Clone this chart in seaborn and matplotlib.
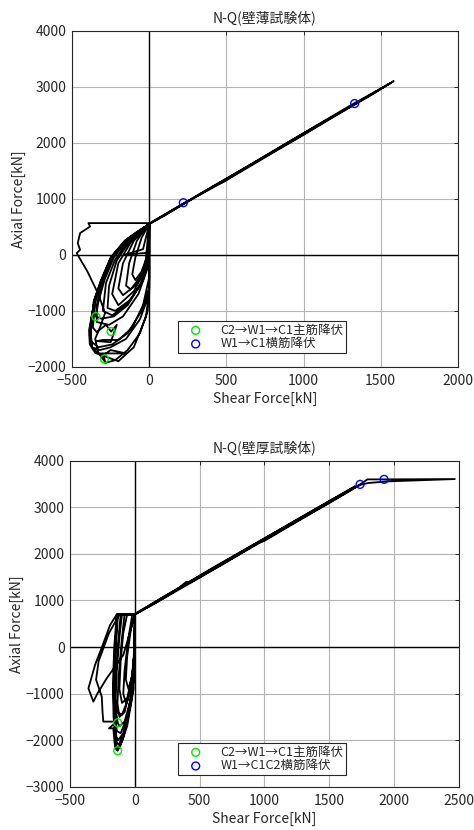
import numpy as np
import pandas as pd
import matplotlib
matplotlib.use("Agg")
import matplotlib.pyplot as plt
import seaborn as sns

# ---------------- data ----------------
titles = ["N-Q(壁薄試験体)", "N-Q(壁厚試験体)"]
xlabel = "Shear Force[kN]"
ylabel = "Axial Force[kN]"

# thin-wall specimen: shear force / axial force path
thin_q = [0, 100, 221, 350, 420, 470, 600, 800, 1000, 1200, 1331, 1450, 1584,
          1450, 1200, 1000, 800, 500, 300, 100, 0,
          150, 400, 700, 1000, 1300, 1560, 1300, 900, 600, 300, 0,
          -50, -90, -110, -90, -50, -10, 0,
          -20, -80, -130, -150, -120, -60, -10, 0,
          -30, -100, -170, -200, -170, -90, -20, 0, 0,
          -40, -120, -200, -240, -200, -100, -30, 0,
          -50, -130, -210, -260, -270, -220, -120, -40, -5, 0,
          -55, -140, -220, -280, -300, -240, -150, -60, -5, 0,
          -60, -150, -230, -290, -330, -346, -310, -230, -140, -50, -5, 0,
          -65, -150, -235, -300, -340, -340, -260, -170, -70, -5, 0,
          -70, -150, -240, -305, -350, -365, -340, -280, -247, -210, -250, -340, -300,
          -200, -110, -40, 0, 0,
          -70, -145, -242, -307, -351, -375, -385, -370, -320, -250, -150, -60, 0, 0,
          -75, -150, -245, -310, -355, -380, -375, -330, -240, -140, -50, 0, 0,
          -80, -150, -245, -310, -355, -390, -385, -350, -300, -290, -285, -220, -140, -60, -10, 0, 0,
          -90, -160, -250, -315, -360, -380, -370, -330, -150, -250, -300, -200, -100, -20, 0, 0,
          -40, -160, 0,
          0, -394, -383, -448, -463, -448, -470, -400, -330, -286, -320, -350, -330, -290]
thin_n = [550, 700, 904, 1110, 1230, 1290, 1510, 1830, 2150, 2480, 2690, 2880, 3100,
          2870, 2470, 2140, 1820, 1330, 1030, 710, 550,
          800, 1200, 1680, 2170, 2640, 3060, 2660, 2010, 1520, 1040, 560,
          300, -50, -350, -450, -300, 0, 550,
          500, 250, -150, -550, -620, -400, -50, 550,
          470, 250, -150, -600, -720, -550, -200, 300, 550,
          460, 220, -150, -700, -900, -650, -300, 550,
          450, 230, -100, -550, -950, -1000, -800, -450, -50, 550,
          440, 230, -80, -500, -1000, -1080, -900, -550, -150, 550,
          430, 240, -50, -450, -850, -1102, -1140, -1100, -900, -500, -100, 550,
          420, 230, -30, -450, -900, -1200, -1250, -1100, -700, -200, 550,
          410, 250, -20, -450, -850, -1300, -1380, -1250, -1370, -1250, -1560, -1540, -1520,
          -1520, -1300, -900, -400, 550,
          410, 268, -30, -446, -804, -1150, -1450, -1650, -1700, -1650, -1500, -1150, -700, 550,
          405, 265, -35, -450, -810, -1250, -1550, -1650, -1600, -1400, -1000, -600, 550,
          400, 260, -40, -460, -820, -1350, -1600, -1750, -1800, -1857, -1930, -1880, -1700, -1400, -1000, -500, 550,
          390, 250, -50, -470, -830, -1400, -1650, -1760, -1760, -1700, -1800, -1900, -1650, -1100, -600, 550,
          100, 0, 40,
          566, 566, 505, 387, 208, 89, 30, -300, -700, -1041, -1300, -1500, -1750, -1900]

thin_green_q = [-346, -247, -290]
thin_green_n = [-1102, -1370, -1857]
thin_blue_q = [221, 1331]
thin_blue_n = [930, 2700]

# thick-wall specimen
thick_q = [0, 150, 300, 397, 420, 600, 800, 1000, 1200, 1400, 1600, 1738, 1795, 1923, 2200, 2469,
           2200, 1950, 1800, 1738, 1500, 1300, 1000, 950, 700, 400, 200, 0,
           200, 500, 800, 1100, 1400, 1700, 1400, 1000, 600, 300, 0,
           -30, -60, -70, -50, -20, 0, 0,
           -20, -50, -80, -90, -70, -30, 0, 0,
           -60, -90, -110, -120, -100, -60, -20, 0, 0,
           -80, -100, -125, -135, -120, -80, -30, 0, 0,
           -100, -120, -140, -150, -140, -100, -50, -10, 0,
           -110, -130, -150, -155, -140, -110, -60, -15, 0,
           -140, -150, -160, -150, -133, -120, -80, -30, 0, 0,
           -140, -160, -170, -165, -150, -130, -90, -40, 0, 0,
           -135, -150, -160, -150, -140, -125, -80, -30, 0, 0,
           -130, -150, -165, -160, -145, -133, -120, -90, -60, -20, 0, 0,
           -140, -192, -244, -308, -359, -321, -290, -218, -90, -40, 0,
           -120, -200, -280, -300, -256, -250, -244, -141, -200, -167, -154, -141, -110, -60, -10, 0]
thick_n = [700, 930, 1180, 1401, 1370, 1660, 1980, 2296, 2620, 2940, 3260, 3491, 3598, 3598, 3602, 3605,
           3580, 3555, 3520, 3480, 3090, 2770, 2280, 2230, 1810, 1330, 1010, 700,
           1045, 1525, 2010, 2490, 2970, 3450, 2975, 2335, 1700, 1205, 715,
           400, -200, -700, -900, -600, 0, 700,
           700, 200, -500, -1000, -1200, -900, -200, 700,
           700, 300, -300, -900, -1200, -1100, -600, 0, 700,
           700, 200, -600, -1200, -1500, -1400, -800, 0, 700,
           700, 200, -500, -1100, -1400, -1450, -1100, -400, 700,
           700, 100, -700, -1400, -1800, -1850, -1500, -800, 700,
           690, 100, -700, -1300, -1624, -1700, -1600, -1100, -300, 700,
           700, 0, -800, -1500, -1900, -2000, -1850, -1300, -500, 700,
           700, 0, -900, -1700, -2050, -2100, -1800, -1200, -400, 700,
           700, 0, -900, -1600, -2100, -2225, -2150, -1950, -1600, -1000, -300, 700,
           700, 472, 79, -386, -886, -1173, -1000, -672, -172, 300, 700,
           700, 300, -300, -700, -1066, -1400, -1600, -1600, -1745, -1745, -2139, -2210, -2100, -1700, -900, 700]

thick_green_q = [-133, -133]
thick_green_n = [-1624, -2225]
thick_blue_q = [1738, 1923]
thick_blue_n = [3491, 3598]

legend_labels = [["C2→W1→C1主筋降伏", "W1→C1横筋降伏"],
                 ["C2→W1→C1主筋降伏", "W1→C1C2横筋降伏"]]

# ---------------- figure ----------------
sns.set_theme(style="white")
plt.rcParams["font.family"] = ["Noto Sans CJK JP", "DejaVu Sans"]
plt.rcParams["axes.unicode_minus"] = True

fig = plt.figure(figsize=(4.74, 8.30), dpi=100)
ax1 = fig.add_axes([0.152, 0.558, 0.814, 0.405])
ax2 = fig.add_axes([0.148, 0.052, 0.820, 0.393])

specs = [
    (ax1, thin_q, thin_n, thin_green_q, thin_green_n, thin_blue_q, thin_blue_n,
     (-500, 2000), (-2000, 4000), np.arange(-500, 2001, 500), np.arange(-2000, 4001, 1000),
     (0.275, 0.042)),
    (ax2, thick_q, thick_n, thick_green_q, thick_green_n, thick_blue_q, thick_blue_n,
     (-500, 2500), (-3000, 4000), np.arange(-500, 2501, 500), np.arange(-3000, 4001, 1000),
     (0.278, 0.037)),
]

for i, (ax, q, n, gq, gn, bq, bn, xl, yl, xt, yt, lpos) in enumerate(specs):
    df = pd.DataFrame({"q": q, "n": n, "order": np.arange(len(q))})
    ax.grid(True, color="#b4b4b4", lw=0.8)
    ax.set_axisbelow(True)
    ax.axhline(0, color="black", lw=1.0, zorder=1.5)
    ax.axvline(0, color="black", lw=1.0, zorder=1.5)
    sns.lineplot(data=df, x="q", y="n", sort=False, estimator=None, color="black",
                 lw=1.3, ax=ax, zorder=3)
    sns.scatterplot(x=gq, y=gn, ax=ax, s=32, marker="o", facecolors="none",
                    edgecolors="#00e600", linewidths=1.0, label=legend_labels[i][0], zorder=4)
    sns.scatterplot(x=bq, y=bn, ax=ax, s=32, marker="o", facecolors="none",
                    edgecolors="#0000ff", linewidths=1.0, label=legend_labels[i][1], zorder=4)
    ax.set_xlim(*xl)
    ax.set_ylim(*yl)
    ax.set_xticks(xt)
    ax.set_yticks(yt)
    ax.tick_params(direction="in", top=True, right=True, length=3, width=0.7,
                   labelsize=10, colors="#262626")
    ax.tick_params(axis="x", pad=5)
    ax.tick_params(axis="y", pad=4)
    for s in ax.spines.values():
        s.set_visible(True)
        s.set_color("#262626")
        s.set_linewidth(0.8)
    ax.set_title(titles[i], fontsize=10, pad=6, color="#262626")
    ax.set_xlabel(xlabel, fontsize=10, labelpad=3, color="#262626")
    ax.set_ylabel(ylabel, fontsize=10, labelpad=1, color="#262626")
    leg = ax.legend(loc="lower left", bbox_to_anchor=lpos, fontsize=9, frameon=True,
                    fancybox=False, framealpha=1, edgecolor="#262626",
                    handlelength=2.4, handletextpad=0.8, borderpad=0.2,
                    labelspacing=0.05, borderaxespad=0)
    leg.get_frame().set_linewidth(0.8)

fig.savefig("out.png", dpi=100)
